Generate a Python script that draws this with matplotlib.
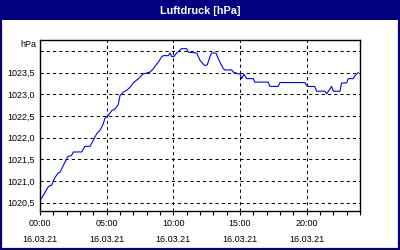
import matplotlib
matplotlib.use("Agg")
import matplotlib.pyplot as plt
from matplotlib.patches import Rectangle

plt.rcParams['font.family'] = ['Liberation Sans', 'DejaVu Sans']

# hours since 16.03.21 00:00 and pressure in hPa
hours = [0, 0.3, 0.6, 0.75, 0.88, 1.0, 1.12, 1.37, 1.5, 1.75, 2.0, 2.12, 2.37, 2.5,
         3.13, 3.25, 3.37, 3.75, 4.0, 4.25, 4.5, 4.75, 4.87, 5.12, 5.37, 5.62, 5.87,
         6.0, 6.25, 6.5, 6.75, 7.0, 7.37, 7.75, 8.25, 8.5, 8.87, 9.12, 9.25, 9.62,
         9.75, 9.87, 10.05, 10.25, 10.6, 11.0, 11.12, 11.75, 12.0, 12.12, 12.25,
         12.37, 12.55, 12.75, 12.87, 13.2, 13.37, 13.5, 13.75, 13.87, 14.37, 14.5,
         14.87, 15.0, 15.12, 15.3, 15.5, 16.0, 16.1, 17.1, 17.25, 17.87, 18.0,
         19.87, 20.0, 20.1, 20.6, 20.75, 21.37, 21.5, 21.87, 22.0, 22.5, 22.62,
         23.0, 23.12, 23.5, 23.62, 23.87]
pressure = [1020.55, 1020.7, 1020.86, 1020.9, 1020.9, 1021.01, 1021.08, 1021.19,
            1021.2, 1021.36, 1021.51, 1021.57, 1021.59, 1021.67, 1021.67, 1021.74,
            1021.8, 1021.8, 1021.94, 1022.09, 1022.17, 1022.32, 1022.45, 1022.51,
            1022.62, 1022.66, 1022.76, 1022.97, 1023.05, 1023.09, 1023.16, 1023.26,
            1023.36, 1023.47, 1023.51, 1023.59, 1023.74, 1023.86, 1023.89, 1023.89,
            1023.95, 1023.87, 1023.87, 1023.95, 1024.05, 1024.05, 1023.97, 1023.95,
            1023.78, 1023.74, 1023.69, 1023.66, 1023.68, 1023.87, 1023.95, 1023.95,
            1023.82, 1023.74, 1023.59, 1023.56, 1023.56, 1023.51, 1023.47, 1023.47,
            1023.36, 1023.46, 1023.36, 1023.36, 1023.28, 1023.28, 1023.18, 1023.18,
            1023.27, 1023.27, 1023.2, 1023.18, 1023.18, 1023.07, 1023.07, 1023.01,
            1023.18, 1023.07, 1023.07, 1023.26, 1023.26, 1023.36, 1023.36, 1023.43,
            1023.5]

x_ticks = [0, 5, 10, 15, 20]
x_labels = ["00:00\n16.03.21", "05:00\n16.03.21", "10:00\n16.03.21",
            "15:00\n16.03.21", "20:00\n16.03.21"]
y_ticks = [1020.5, 1021.0, 1021.5, 1022.0, 1022.5, 1023.0, 1023.5, 1024.0]
y_labels = ["1020,5", "1021,0", "1021,5", "1022,0", "1022,5", "1023,0", "1023,5", ""]

navy = "#000080"
fig = plt.figure(figsize=(4, 2.5), dpi=100)
fig.patch.set_facecolor("white")

# frame + title bar
fig.patches.append(Rectangle((0, 0), 1, 1, transform=fig.transFigure, fill=False,
                             edgecolor=navy, linewidth=3))
fig.patches.append(Rectangle((0, 1 - 20 / 250), 1, 20 / 250, transform=fig.transFigure,
                             facecolor=navy, edgecolor="none"))
fig.text(0.5, 1 - 10.5 / 250, "Luftdruck [hPa]", color="white", fontsize=7.8,
         fontweight="bold", ha="center", va="center")

ax = fig.add_axes([40 / 400, 1 - 211 / 250, 320 / 400, 171 / 250])
ax.plot(hours, pressure, color="#0000ff", linewidth=0.8)

ax.set_xlim(0, 24)
ax.set_ylim(1020.31, 1024.25)
ax.set_xticks(x_ticks)
ax.set_xticklabels(x_labels, fontsize=6.5, linespacing=2.0)
ax.set_xticks(range(0, 25), minor=True)
ax.set_yticks(y_ticks)
ax.set_yticklabels(y_labels, fontsize=6.5)
ax.tick_params(axis="x", which="both", direction="out", length=3, width=0.8, pad=3)
ax.tick_params(axis="y", length=0, pad=4)

ax.grid(True, color="black", linestyle=(0, (3, 3)), linewidth=0.75)
for s in ax.spines.values():
    s.set_linewidth(1)
    s.set_color("black")

fig.text(36 / 400, 1 - 45 / 250, "hPa", fontsize=6.5, ha="right", va="center")

fig.savefig("out.png", dpi=100)
